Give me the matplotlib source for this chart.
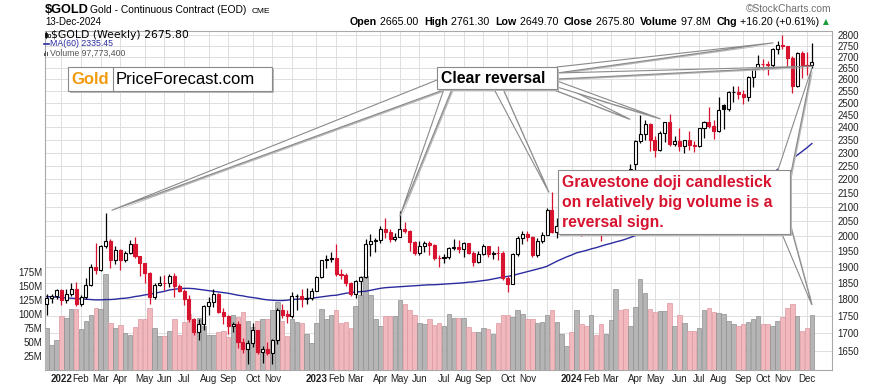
import matplotlib
matplotlib.use('Agg')
import matplotlib.pyplot as plt
import numpy as np
import pandas as pd
from matplotlib.patches import Polygon, Rectangle
from matplotlib.ticker import NullLocator

plt.rcParams['font.family'] = ['Liberation Sans', 'DejaVu Sans']

# weekly bars, dated by the Friday close
weeks = pd.date_range(end='2024-12-13', periods=157, freq='W-FRI')

opens = [1786, 1805, 1811, 1829, 1797, 1817, 1832, 1786, 1807, 1842,
         1900, 1889, 1966, 1985, 1921, 1954, 1923, 1945, 1974, 1934,
         1911, 1882, 1808, 1842, 1851, 1850, 1871, 1840, 1826, 1801,
         1742, 1703, 1727, 1781, 1791, 1816, 1762, 1749, 1722, 1728,
         1675, 1655, 1672, 1709, 1648, 1656, 1645, 1681, 1769, 1755,
         1750, 1809, 1810, 1800, 1804, 1826, 1869, 1921, 1926, 1929,
         1876, 1874, 1850, 1817, 1855, 1868, 1973, 1983, 1986, 2025,
         2015, 1990, 1999, 2025, 2019, 1981, 1944, 1969, 1977, 1971,
         1929, 1928, 1932, 1961, 1964, 1959, 1976, 1946, 1916, 1940,
         1966, 1942, 1946, 1945, 1866, 1845, 1941, 1994, 2006, 1999,
         1937, 1984, 2003, 2089, 2014, 2035, 2069, 2071, 2049, 2051,
         2029, 2018, 2053, 2038, 2024, 2046, 2096, 2186, 2161, 2158,
         2257, 2345, 2374, 2413, 2349, 2309, 2375, 2419, 2334, 2345,
         2325, 2349, 2331, 2327, 2397, 2421, 2404, 2385, 2490, 2475,
         2546, 2547, 2536, 2524, 2610, 2646, 2668, 2667, 2665, 2736,
         2756, 2749, 2694, 2571, 2716, 2665, 2665.0]
highs = [1815, 1815, 1831, 1832, 1830, 1849, 1853, 1812, 1864, 1909,
         1976, 1971, 2078, 1990, 1966, 1957, 1950, 1988, 1998, 1936,
         1911, 1885, 1850, 1870, 1874, 1877, 1880, 1847, 1830, 1812,
         1745, 1740, 1784, 1807, 1832, 1820, 1775, 1752, 1733, 1735,
         1688, 1680, 1730, 1710, 1665, 1676, 1683, 1775, 1787, 1768,
         1823, 1815, 1832, 1833, 1833, 1871, 1923, 1937, 1949, 1975,
         1893, 1880, 1852, 1858, 1870, 1990, 2009, 1993, 2035, 2063,
         2024, 2012, 2085, 2048, 2022, 1985, 1985, 1983, 1985, 1973,
         1937, 1940, 1965, 1990, 1988, 1980, 1977, 1950, 1950, 1975,
         1968, 1950, 1969, 1950, 1872, 1945, 2000, 2019, 2016, 2000,
         1995, 2014, 2095, 2152, 2061, 2077, 2093, 2079, 2067, 2062,
         2037, 2077, 2058, 2042, 2050, 2096, 2203, 2189, 2225, 2256,
         2350, 2448, 2431, 2418, 2364, 2385, 2422, 2454, 2364, 2398,
         2349, 2384, 2346, 2398, 2424, 2483, 2430, 2523, 2495, 2549,
         2570, 2571, 2555, 2614, 2649, 2708, 2690, 2680, 2738, 2772,
         2801, 2751, 2703, 2721, 2725, 2720, 2761.3]
lows = [1753, 1790, 1802, 1782, 1789, 1810, 1780, 1780, 1801, 1840,
        1878, 1888, 1960, 1895, 1910, 1890, 1915, 1940, 1927, 1872,
        1850, 1787, 1801, 1840, 1828, 1838, 1806, 1822, 1784, 1732,
        1696, 1681, 1711, 1754, 1778, 1759, 1727, 1698, 1705, 1660,
        1646, 1615, 1663, 1642, 1618, 1640, 1616, 1670, 1745, 1730,
        1745, 1769, 1776, 1785, 1797, 1824, 1865, 1897, 1917, 1872,
        1861, 1840, 1809, 1805, 1813, 1865, 1934, 1949, 1979, 1993,
        1981, 1983, 1999, 2010, 1952, 1937, 1938, 1947, 1937, 1921,
        1900, 1912, 1926, 1956, 1944, 1932, 1940, 1904, 1912, 1938,
        1932, 1925, 1923, 1858, 1823, 1845, 1935, 1975, 1983, 1931,
        1932, 1979, 2003, 2010, 1993, 2021, 2062, 2034, 2017, 2002,
        2010, 2015, 2026, 1984, 2016, 2035, 2092, 2150, 2146, 2150,
        2236, 2337, 2349, 2305, 2285, 2308, 2342, 2325, 2326, 2307,
        2299, 2312, 2304, 2321, 2357, 2397, 2353, 2382, 2394, 2465,
        2504, 2514, 2493, 2508, 2566, 2645, 2640, 2618, 2650, 2711,
        2736, 2658, 2541, 2566, 2605, 2621, 2649.7]
closes = [1805, 1811, 1829, 1797, 1817, 1832, 1786, 1807, 1842, 1900,
          1889, 1966, 1985, 1921, 1954, 1923, 1945, 1974, 1934, 1911,
          1882, 1808, 1842, 1851, 1850, 1871, 1840, 1826, 1801, 1742,
          1703, 1727, 1781, 1791, 1816, 1762, 1749, 1722, 1728, 1675,
          1655, 1672, 1709, 1648, 1656, 1645, 1681, 1769, 1754, 1750,
          1809, 1810, 1800, 1804, 1826, 1869, 1921, 1926, 1929, 1876,
          1874, 1850, 1817, 1855, 1868, 1973, 1983, 1986, 2025, 2015,
          1990, 1999, 2025, 2019, 1981, 1944, 1969, 1977, 1971, 1929,
          1928, 1932, 1961, 1964, 1959, 1976, 1946, 1916, 1940, 1966,
          1942, 1946, 1945, 1866, 1845, 1941, 1994, 2006, 1999, 1937,
          1984, 2003, 2089, 2014, 2035, 2069, 2071, 2049, 2051, 2029,
          2018, 2053, 2038, 2024, 2046, 2096, 2186, 2161, 2158, 2238,
          2345, 2374, 2413, 2349, 2309, 2375, 2419, 2334, 2345, 2325,
          2349, 2331, 2327, 2397, 2421, 2404, 2385, 2470, 2475, 2546,
          2547, 2536, 2524, 2610, 2646, 2668, 2667, 2665, 2736, 2756,
          2749, 2694, 2571, 2716, 2665, 2659.6, 2675.8]
# volume in millions of contracts
volumes = [74, 45, 53, 96, 93, 109, 109, 73, 87, 98,
           111, 108, 170, 84, 75, 80, 65, 62, 77, 90,
           91, 110, 74, 60, 60, 70, 90, 63, 85, 100,
           68, 93, 78, 62, 63, 67, 70, 58, 98, 95,
           104, 88, 76, 88, 90, 90, 106, 121, 87,
           60, 90, 85, 84, 64, 48, 83, 109, 90, 97,
           107, 84, 86, 74, 114, 133, 168, 134, 91, 78,
           96, 96, 96, 125, 118, 106, 97, 83, 81, 90,
           80, 83, 78, 100, 92,
           92, 92, 77, 68, 67, 74, 73, 64, 83, 98, 98,
           94, 106, 99, 91, 90, 84, 85, 98, 106, 86,
           64, 42, 67, 106, 82, 79, 97, 62, 82, 64,
           89, 144, 106, 109, 79, 112, 162, 137, 109, 104,
           105, 105, 119, 79, 97, 84, 70, 70, 75, 107,
           111, 104, 101, 99, 87, 81, 79, 82, 86, 90,
           96, 82, 82, 79, 88, 95, 111, 117, 96, 70,
           75, 97.7734]
ma60 = [1808, 1807, 1806, 1805, 1804, 1803, 1802, 1801, 1800, 1799,
        1798, 1798, 1799, 1799, 1800, 1802, 1803, 1805, 1808, 1810,
        1813, 1815, 1818, 1821, 1824, 1828, 1830, 1832, 1833, 1833,
        1832, 1830, 1828, 1826, 1824, 1822, 1820, 1818, 1815, 1812,
        1810, 1807, 1805, 1803, 1800, 1798, 1797, 1796, 1796, 1797,
        1799, 1800, 1801, 1802, 1803, 1805, 1807, 1809, 1811, 1812,
        1815, 1818, 1820, 1822, 1823, 1824, 1827, 1830, 1833, 1835,
        1836, 1837, 1838, 1839, 1840, 1841, 1842, 1843, 1844, 1844,
        1845, 1846, 1847, 1848, 1849, 1850, 1852, 1853, 1855, 1857,
        1859, 1862, 1865, 1868, 1870, 1873, 1877, 1881, 1885, 1889,
        1893, 1897, 1902, 1910, 1918, 1925, 1932, 1938, 1945, 1949,
        1953, 1958, 1962, 1967, 1972, 1976, 1981, 1985, 1990, 1996,
        2002, 2008, 2015, 2022, 2028, 2035, 2042, 2049, 2056, 2063,
        2070, 2077, 2084, 2091, 2098, 2105, 2113, 2121, 2129, 2137,
        2145, 2154, 2163, 2172, 2181, 2190, 2201, 2213, 2224, 2236,
        2249, 2262, 2276, 2290, 2304, 2319, 2335.45]

price_ticks = list(range(1650, 2801, 50))
vol_ticks = [25, 50, 75, 100, 125, 150, 175]

RED = '#d7132f'
W, H = 875, 385
L, R, T, B = 45, 832, 31, 370

o = np.array(opens); h = np.array(highs); l = np.array(lows); c = np.array(closes)
v = np.array(volumes)
x = np.arange(len(c))
prev = np.concatenate([[o[0]], c[:-1]])
up = c >= prev

# month gridlines at the first bar of every month (Dec labels crowd the year label)
month_idx, month_lab = [], []
for i in range(1, len(weeks)):
    if weeks[i].month != weeks[i - 1].month:
        d = weeks[i]
        month_idx.append(i)
        if d.month == 1:
            month_lab.append(str(d.year))
        elif d.month == 12 and d.year < 2024:
            month_lab.append('')
        else:
            month_lab.append(d.strftime('%b'))

fig = plt.figure(figsize=(W / 100, H / 100), dpi=100)
fig.patch.set_facecolor('white')
rect = [L / W, 1 - B / H, (R - L) / W, (B - T) / H]
xlim = (-0.35, 160.1)
plim = (1599, 2819)

# grid layer
axg = fig.add_axes(rect, zorder=1, label='grid')
axg.set_yscale('log')
axg.set_ylim(*plim)
axg.set_xlim(*xlim)
axg.yaxis.tick_right()
axg.set_yticks(price_ticks)
axg.set_yticklabels([str(t) for t in price_ticks])
axg.yaxis.set_minor_locator(NullLocator())
axg.set_xticks(month_idx)
axg.set_xticklabels(month_lab)
for t in axg.get_xticklabels():
    if t.get_text().isdigit():
        t.set_fontweight('bold')
axg.grid(True, color='#dedede', lw=0.7)
axg.tick_params(axis='y', length=0, labelsize=7, pad=4, colors='#222222')
axg.tick_params(axis='x', length=0, labelsize=7, pad=3, colors='#222222')
for s in axg.spines.values():
    s.set_color('#a8a8a8')
    s.set_linewidth(0.8)

# volume layer
axv = fig.add_axes(rect, zorder=2, label='volume')
axv.patch.set_visible(False)
axv.set_xlim(*xlim)
axv.set_ylim(0, 603e6)
face = np.where(up, '#b5b5b5', '#f1b9be')
edge = np.where(up, '#8f8f8f', '#dc98a0')
axv.bar(x, v * 1e6, width=0.92, color=face, edgecolor=edge, linewidth=0.5)
axv.set_yticks([t * 1e6 for t in vol_ticks])
axv.set_yticklabels([f'{t}M' for t in vol_ticks])
axv.tick_params(axis='y', length=0, labelsize=7, pad=2, colors='#222222')
axv.set_xticks([])
for s in axv.spines.values():
    s.set_visible(False)

# price layer
axp = fig.add_axes(rect, zorder=3, label='price')
axp.patch.set_visible(False)
axp.set_yscale('log')
axp.set_ylim(*plim)
axp.set_xlim(*xlim)
axp.set_xticks([]); axp.set_yticks([])
axp.yaxis.set_minor_locator(NullLocator())
for s in axp.spines.values():
    s.set_visible(False)
col = np.where(up, 'black', RED)
fill = np.where(c < o, col, 'white')
axp.plot(x, ma60, color='#2b2ba0', lw=1.0, zorder=2)
axp.vlines(x, l, h, colors=col, lw=0.9, zorder=3)
axp.bar(x, np.abs(c - o), bottom=np.minimum(o, c), width=0.62,
        color=fill, edgecolor=col, linewidth=0.8, zorder=4)

# overlay in pixel coordinates for the header and the callouts
ov = fig.add_axes([0, 0, 1, 1], zorder=10, label='overlay')
ov.set_xlim(0, W); ov.set_ylim(H, 0)
ov.axis('off')


def px(a, xv, yv, dx=0, dy=0):
    X, Y = a.transData.transform((xv, yv))
    return X + dx, H - Y + dy


def pointer(b1, b2, tip):
    sh = [(p[0] + 1.5, p[1] + 1.5) for p in (b1, b2, tip)]
    ov.add_patch(Polygon(sh, closed=True, fc='#b9b9b9', ec='none', zorder=1))
    ov.add_patch(Polygon([b1, b2, tip], closed=True, fc='white', ec='#8a8a8a',
                         lw=0.8, zorder=2))


def box(x0, y0, x1, y1):
    ov.add_patch(Rectangle((x0 + 2, y0 + 2), x1 - x0, y1 - y0, fc='#b9b9b9',
                           ec='none', zorder=3))
    ov.add_patch(Rectangle((x0, y0), x1 - x0, y1 - y0, fc='white', ec='#8a8a8a',
                           lw=0.8, zorder=4))


# "Clear reversal" callout
pointer((437, 80), (446, 89), px(axp, 12, h[12], 6, -3))
pointer((444, 89), (452, 89), px(axp, 72, h[72], 0, 5))
pointer((494, 89), (503, 89), px(axp, 103, h[103], -3, 0))
pointer((552, 89), (557, 83), px(axp, 121, h[121], -10, 4))
pointer((557, 81), (557, 87), px(axp, 127, h[127], -9, 5))
pointer((557, 67), (557, 73), px(axp, 150, h[150], -9, 8))
pointer((557, 73), (557, 79), px(axp, 156, c[156], 1, 4))
box(437, 67, 557, 89)
ov.text(441, 78.5, 'Clear reversal', fontsize=11.3, fontweight='bold',
        va='center', ha='left', zorder=5)

# gravestone callout
pointer((778, 170), (790, 178), px(axp, 156, l[156]))
pointer((782, 234), (790, 224), px(axv, 156, v[156] * 1e6, 0, -10))
box(558, 170, 790, 234)
for k, line in enumerate(['Gravestone doji candlestick',
                          'on relatively big volume is a',
                          'reversal sign.']):
    ov.text(562, 183 + 20 * k, line, fontsize=11.3, fontweight='bold',
            color=RED, va='center', ha='left', zorder=5)

# logo box
box(68, 67, 272, 91)
ov.plot([113, 113], [67, 91], color='#8a8a8a', lw=0.8, zorder=5)
ov.text(90.5, 79.5, 'Gold', fontsize=12, color='#f29a0e', fontweight='bold',
        ha='center', va='center', zorder=5)
ov.text(116, 79.5, 'PriceForecast.com', fontsize=12, color='black',
        ha='left', va='center', zorder=5)

# header
ov.text(45, 13, '$GOLD', fontsize=9.2, fontweight='bold', va='baseline')
ov.text(90, 13, 'Gold - Continuous Contract (EOD)', fontsize=7.4, va='baseline')
ov.text(252, 13, 'CME', fontsize=6, va='baseline')
ov.text(45, 25, weeks[-1].strftime('%d-%b-%Y'), fontsize=7, va='baseline')
ov.text(832, 11.5, '\u00a9StockCharts.com', fontsize=7.4, color='#6f6f6f',
        ha='right', va='baseline')

chg = c[-1] - c[-2]
segs = [('Open', True), (f' {o[-1]:.2f}  ', False), ('High', True),
        (f' {h[-1]:.2f}  ', False), ('Low', True), (f' {l[-1]:.2f}  ', False),
        ('Close', True), (f' {c[-1]:.2f}  ', False), ('Volume', True),
        (f' {v[-1]:.1f}M  ', False), ('Chg', True),
        (f' {chg:+.2f} ({chg / c[-2] * 100:+.2f}%) ', False)]
rend = fig.canvas.get_renderer()
cx = 350
for txt, bold in segs:
    t = ov.text(cx, 25, txt, fontsize=7.7, fontweight='bold' if bold else 'normal',
                va='baseline', ha='left')
    cx += t.get_window_extent(rend).width
ov.text(cx, 24.5, '\u25b2', fontsize=5.5, color='#1e9e3a', va='baseline',
        ha='left', family='DejaVu Sans')

# legend inside the plot
ov.add_patch(Rectangle((44.5, 33), 2.2, 3.5, fc='black', ec='black', lw=0.5, zorder=5))
ov.plot([45.6, 45.6], [32, 38], color='black', lw=0.6, zorder=5)
ov.add_patch(Rectangle((47.5, 34), 2.2, 3, fc='white', ec='black', lw=0.5, zorder=5))
ov.text(51, 35.5, f'$GOLD (Weekly) {c[-1]:.2f}', fontsize=7.8, family='DejaVu Sans',
        va='center', ha='left', zorder=5)
ov.plot([44, 49], [44, 44], color='#2b2ba0', lw=1.2, zorder=5)
ov.text(49.5, 44, f'MA(60) {ma60[-1]:.2f}', fontsize=6.3, color='#2b2ba0',
        va='center', ha='left', zorder=5)
for k, bh in enumerate([3, 5, 4]):
    ov.add_patch(Rectangle((44 + 1.4 * k, 56 - bh), 1.0, bh, fc='#555555',
                           ec='none', zorder=5))
ov.text(49.5, 53.5, f'Volume {v[-1] * 1e6:,.0f}', fontsize=6.3, color='#555555',
        va='center', ha='left', zorder=5)

fig.savefig('out.png', dpi=100)
